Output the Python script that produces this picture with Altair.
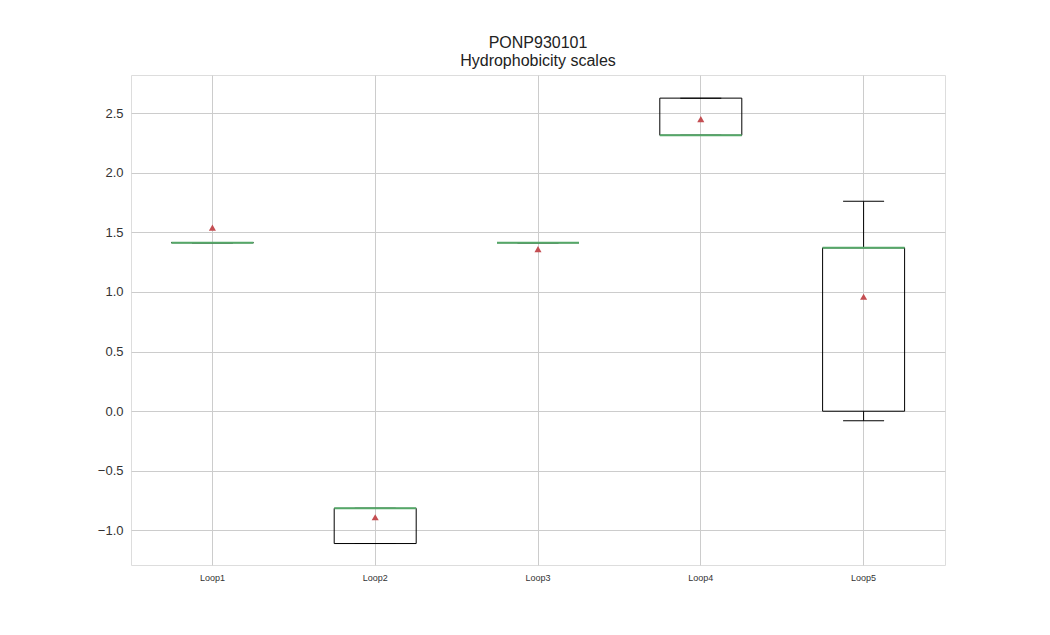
import altair as alt
import pandas as pd

loops = ["Loop1", "Loop2", "Loop3", "Loop4", "Loop5"]
whisker_low = [1.414, -1.11, 1.414, 2.315, -0.08]
q1 = [1.414, -1.11, 1.414, 2.315, 0.0]
median = [1.414, -0.815, 1.414, 2.315, 1.37]
q3 = [1.414, -0.815, 1.414, 2.626, 1.37]
whisker_high = [1.414, -0.815, 1.414, 2.626, 1.76]
means = [1.54, -0.89, 1.36, 2.45, 0.96]

df = pd.DataFrame({
    "loop": loops, "lo": whisker_low, "q1": q1, "med": median,
    "q3": q3, "hi": whisker_high, "mean": means,
})

x = alt.X("loop:N", title=None, sort=loops,
          scale=alt.Scale(paddingInner=0, paddingOuter=0),
          axis=alt.Axis(labelAngle=0, labelFontSize=9, labelColor="#333",
                        domain=False, ticks=False, grid=True, gridColor="#cccccc",
                        bandPosition=0.5, labelPadding=8))
yscale = alt.Scale(domain=[-1.29, 2.82], nice=False, zero=False)
y_axis = alt.Axis(values=[-1.0, -0.5, 0.0, 0.5, 1.0, 1.5, 2.0, 2.5], format=".1f",
                  labelFontSize=13, labelColor="#333", domain=False, ticks=False,
                  gridColor="#cccccc", labelPadding=8)

base = alt.Chart(df)

box = base.mark_bar(size=82, fill=None, stroke="black", strokeWidth=1).encode(
    x=x, y=alt.Y("q1:Q", scale=yscale, axis=y_axis, title=None), y2="q3:Q")
whisk_lo = base.mark_rule(color="black").encode(x=x, y=alt.Y("lo:Q", scale=yscale), y2="q1:Q")
whisk_hi = base.mark_rule(color="black").encode(x=x, y=alt.Y("q3:Q", scale=yscale), y2="hi:Q")
cap_lo = base.mark_tick(orient="horizontal", size=41, thickness=1, color="black", opacity=1).encode(
    x=x, y=alt.Y("lo:Q", scale=yscale))
cap_hi = base.mark_tick(orient="horizontal", size=41, thickness=1, color="black", opacity=1).encode(
    x=x, y=alt.Y("hi:Q", scale=yscale))
med = base.mark_tick(orient="horizontal", size=82, thickness=2, color="#55A868", opacity=1).encode(
    x=x, y=alt.Y("med:Q", scale=yscale))
mean_pt = base.mark_point(shape="triangle-up", filled=True, size=50, color="#C44E52", opacity=1).encode(
    x=x, y=alt.Y("mean:Q", scale=yscale))

chart = (box + whisk_lo + whisk_hi + cap_lo + cap_hi + med + mean_pt).properties(
    width=814, height=490,
    autosize=alt.AutoSizeParams(type="none"),
    padding={"left": 123, "top": 67, "right": 97, "bottom": 62},
    title=alt.TitleParams(["PONP930101", "Hydrophobicity scales"], fontSize=16,
                          fontWeight="normal", color="#222", offset=6),
).configure_view(stroke="#cccccc").configure(font="Liberation Sans", background="white")

chart.save("out.html", embed_options={"renderer": "svg", "actions": False})
